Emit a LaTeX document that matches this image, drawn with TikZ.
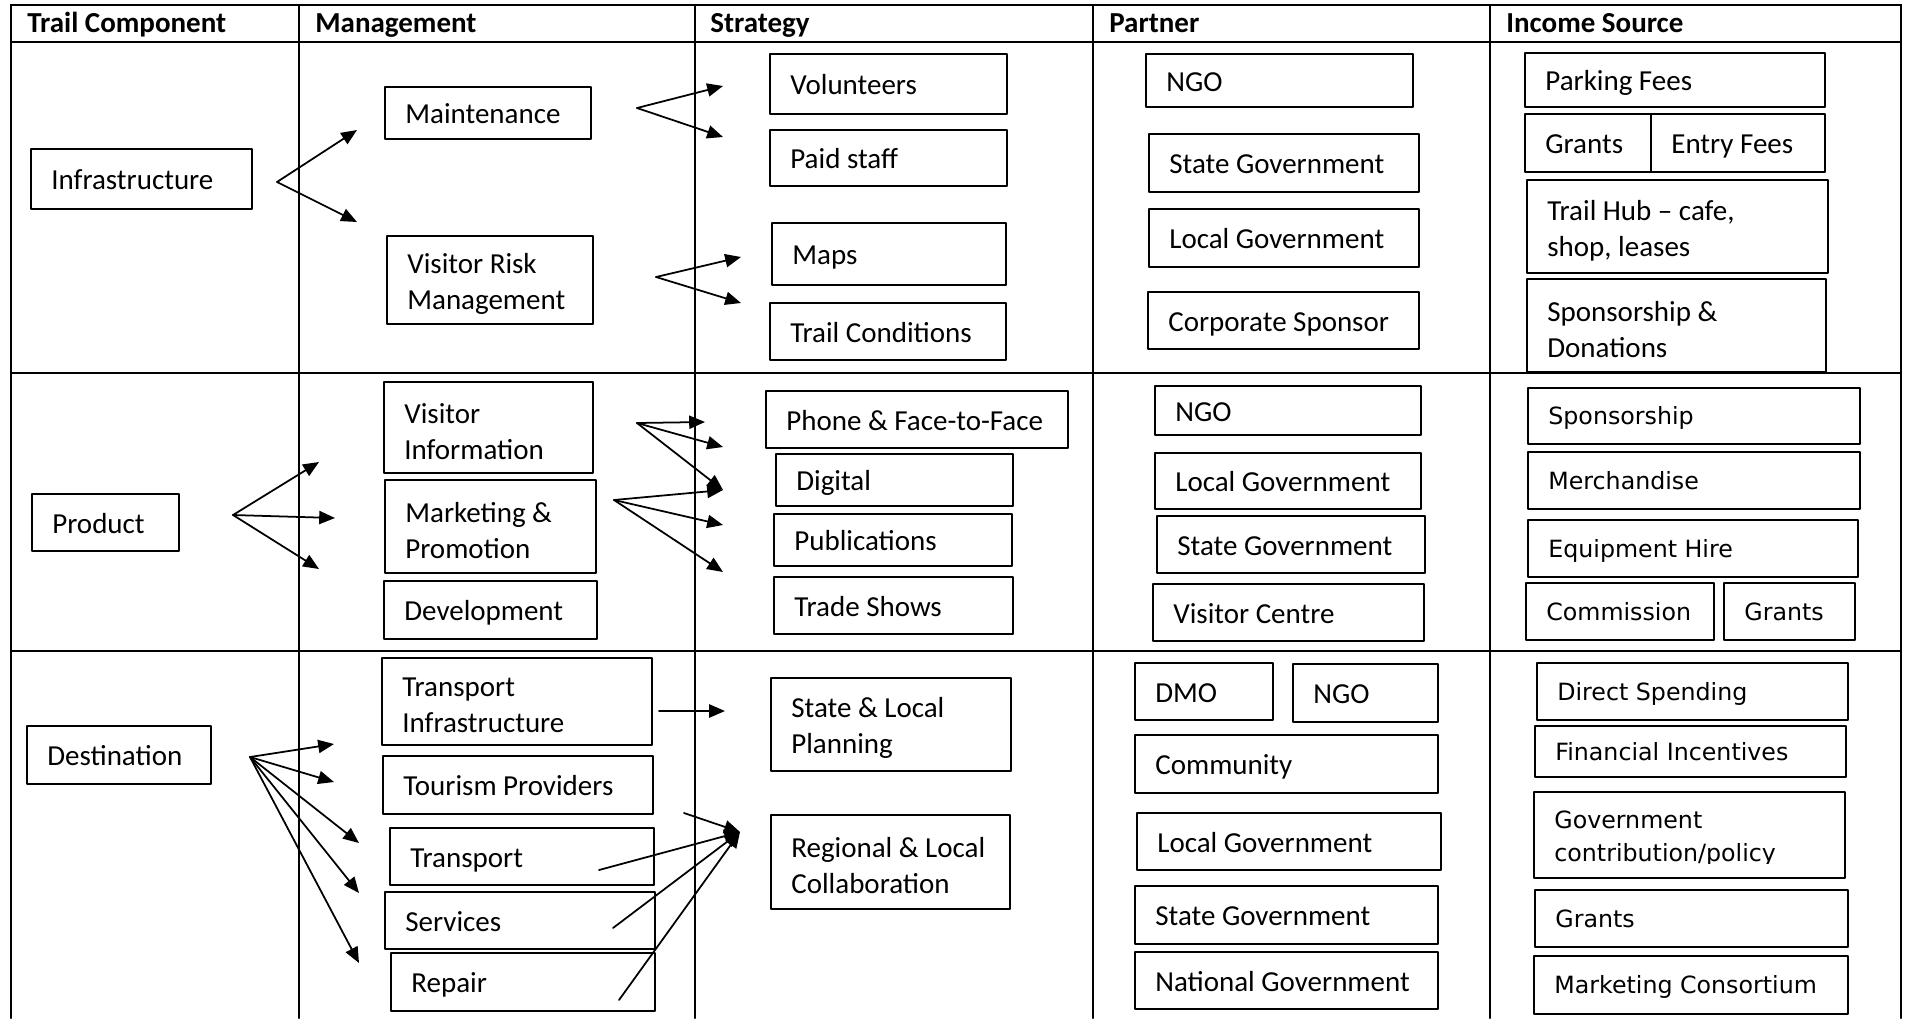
\documentclass[tikz,border=0pt]{standalone}
\usepackage{fontspec}
\setmainfont{Carlito}
\newfontfamily\verdfont{DejaVu Sans}
\usetikzlibrary{arrows.meta}

\newcommand{\boxfont}{\fontsize{16.5pt}{20.5pt}\selectfont}
\newcommand{\incfont}{\verdfont\fontsize{13.5pt}{18.8pt}\selectfont}
\newcommand{\headfont}{\bfseries\fontsize{16.5pt}{20.5pt}\selectfont}

\tikzset{
  box/.style 2 args={draw, line width=0.9pt, anchor=north west, inner sep=0pt,
    minimum width=#1*0.02cm, minimum height=#2*0.02cm},
  txt/.style={anchor=west, xshift=0.42cm, inner sep=0pt, align=left,
    text height=12.5pt, text depth=0pt, font=\boxfont},
  vtxt/.style={txt, text height=10pt, font=\incfont},
  mtxt/.style={anchor=west, xshift=0.42cm, yshift=-0.08cm, inner sep=0pt,
    align=left, font=\boxfont},
  vmtxt/.style={mtxt, font=\incfont},
  lbl/.style={label={[txt]west:#1}},
  vlbl/.style={label={[vtxt]west:#1}},
  mlbl/.style={label={[mtxt]west:#1}},
  head/.style={anchor=base west, inner sep=0pt, font=\headfont},
  grid/.style={line width=1.2pt},
  arr/.style={->, line width=1pt},
}

\begin{document}
\begin{tikzpicture}[line cap=round,line join=round,>={Triangle[length=9pt,width=7.5pt]},x=0.02cm,y=-0.02cm]
\useasboundingbox (0,0) rectangle (1905,1018);

% table
\draw[grid] (11,5) -- (1901,5);
\draw[grid] (11,42) -- (1901,42);
\draw[grid] (11,373) -- (1901,373);
\draw[grid] (11,651) -- (1901,651);
\foreach \x in {11,299,695,1093,1490,1901}
  \draw[grid] (\x,5) -- (\x,1018);

\node[head] (hcomp) at (27,32) {Trail Component};
\node[head] (hmgmt) at (315,32) {Management};
\node[head] (hstrat) at (710,32) {Strategy};
\node[head] (hpart) at (1109,32) {Partner};
\node[head] (hinc) at (1506,32) {Income Source};

% Infrastructure
\node[box={221}{60}, lbl=Infrastructure] (infra) at (30,148) {};
\node[box={206}{52}, lbl=Maintenance] (maint) at (384,86) {};
\node[box={206}{88}, mlbl={Visitor Risk\\Management}] (vrm) at (386,235) {};
\node[box={237}{60}, lbl=Volunteers] (vol) at (769,53) {};
\node[box={237}{56}, lbl=Paid staff] (paid) at (769,129) {};
\node[box={234}{62}, lbl=Maps] (maps) at (771,222) {};
\node[box={236}{57}, lbl=Trail Conditions] (trailc) at (769,302) {};
\node[box={267}{53}, lbl=NGO] (ngoA) at (1145,53) {};
\node[box={270}{58}, lbl=State Government] (stateA) at (1148,133) {};
\node[box={270}{58}, lbl=Local Government] (localA) at (1148,208) {};
\node[box={271}{57}, lbl=Corporate Sponsor] (corp) at (1147,291) {};
\node[box={300}{54}, lbl=Parking Fees] (parking) at (1524,52) {};
\node[box={126}{58}, lbl=Grants] (grantsA) at (1524,113) {};
\node[box={174}{58}, lbl=Entry Fees] (entry) at (1650,113) {};
\node[box={301}{93}, mlbl={Trail Hub – cafe,\\shop, leases}] (hub) at (1526,179) {};
\node[box={299}{93}, mlbl={Sponsorship \&\\Donations}] (sponsA) at (1526,278) {};

\coordinate (i0) at (277,182);
\coordinate (i1) at (357,130);
\coordinate (i2) at (357,222);
\coordinate (m0) at (637,108);
\coordinate (m1) at (723,86);
\coordinate (m2) at (723,137);
\coordinate (r0) at (656,277);
\coordinate (r1) at (741,257);
\coordinate (r2) at (741,303);

\draw[arr] (i0) -- (i1);
\draw[arr] (i0) -- (i2);
\draw[arr] (m0) -- (m1);
\draw[arr] (m0) -- (m2);
\draw[arr] (r0) -- (r1);
\draw[arr] (r0) -- (r2);

% Product
\node[box={147}{57}, lbl=Product] (product) at (31,493) {};
\node[box={209}{91}, mlbl={Visitor\\Information}] (visinfo) at (383,381) {};
\node[box={211}{93}, mlbl={Marketing \&\\Promotion}] (mkt) at (384,479) {};
\node[box={213}{58}, lbl=Development] (dev) at (383,580) {};
\node[box={302}{57}, lbl={Phone \& Face-to-Face}] (phone) at (765,390) {};
\node[box={237}{52}, lbl=Digital] (digital) at (775,453) {};
\node[box={238}{52}, lbl=Publications] (pubs) at (773,513) {};
\node[box={239}{57}, lbl=Trade Shows] (trade) at (773,576) {};
\node[box={266}{49}, lbl=NGO] (ngoB) at (1154,385) {};
\node[box={266}{56}, lbl=Local Government] (localB) at (1154,452) {};
\node[box={268}{57}, lbl=State Government] (stateB) at (1156,515) {};
\node[box={271}{57}, lbl=Visitor Centre] (vcentre) at (1152,583) {};
\node[box={332}{56}, vlbl=Sponsorship] (sponsB) at (1527,387) {};
\node[box={332}{57}, vlbl=Merchandise] (merch) at (1527,451) {};
\node[box={330}{57}, vlbl=Equipment Hire] (equip) at (1527,519) {};
\node[box={188}{57}, vlbl=Commission] (comm) at (1525,582) {};
\node[box={131}{57}, vlbl=Grants] (grantsB) at (1723,582) {};

\coordinate (p0) at (233,515);
\coordinate (p1) at (319,462);
\coordinate (p2) at (335,518);
\coordinate (p3) at (319,569);
\coordinate (v0) at (637,423);
\coordinate (v1) at (705,422);
\coordinate (v2) at (723,447);
\coordinate (v3) at (723,490);
\coordinate (k0) at (614,500);
\coordinate (k2) at (723,525);
\coordinate (k3) at (723,572);

\draw[arr] (p0) -- (p1);
\draw[arr] (p0) -- (p2);
\draw[arr] (p0) -- (p3);
\draw[arr] (v0) -- (v1);
\draw[arr] (v0) -- (v2);
\draw[arr] (v0) -- (v3);
\draw[arr] (k0) -- (v3);
\draw[arr] (k0) -- (k2);
\draw[arr] (k0) -- (k3);

% Destination
\node[box={184}{58}, lbl=Destination] (dest) at (26,725) {};
\node[box={270}{87}, mlbl={Transport\\Infrastructure}] (transinf) at (381,657) {};
\node[box={270}{58}, lbl=Tourism Providers] (tourism) at (382,755) {};
\node[box={264}{57}, lbl=Transport] (transport) at (389,827) {};
\node[box={270}{57}, lbl=Services] (services) at (384,891) {};
\node[box={264}{58}, lbl=Repair] (repair) at (390,952) {};
\node[box={240}{93}, mlbl={State \& Local\\Planning}] (planning) at (770,677) {};
\node[box={239}{94}, mlbl={Regional \& Local\\Collaboration}] (collab) at (770,814) {};
\node[box={138}{57}, lbl=DMO] (dmo) at (1134,662) {};
\node[box={145}{58}, lbl=NGO] (ngoC) at (1292,663) {};
\node[box={303}{58}, lbl=Community] (community) at (1134,734) {};
\node[box={304}{57}, lbl=Local Government] (localC) at (1136,812) {};
\node[box={303}{58}, lbl=State Government] (stateC) at (1134,885) {};
\node[box={303}{57}, lbl=National Government] (national) at (1134,951) {};
\node[box={311}{57}, vlbl=Direct Spending] (direct) at (1536,662) {};
\node[box={311}{51}, vlbl=Financial Incentives] (financial) at (1534,725) {};
\node[box={311}{86}] (govt) at (1533,791) {};
\begin{scope}
\clip (1533,791) rectangle (1844,863);
\node[vmtxt] (govtxt) at (govt.west) {Government\\contribution/policy};
\end{scope}
\node[box={313}{57}, vlbl=Grants] (grantsC) at (1534,889) {};
\node[box={314}{58}, vlbl=Marketing Consortium] (consort) at (1533,955) {};

\coordinate (d0) at (250,757);
\coordinate (d1) at (334,744);
\coordinate (d2) at (334,782);
\coordinate (d3) at (359,843);
\coordinate (d4) at (359,893);
\coordinate (d5) at (359,963);
\coordinate (t0) at (659,711);
\coordinate (t1) at (725,711);
\coordinate (c0) at (740,832);
\coordinate (c1) at (684,813);
\coordinate (c2) at (599,870);
\coordinate (c3) at (613,928);
\coordinate (c4) at (619,1000);

\foreach \e in {d1,d2,d3,d4,d5}
  \draw[arr] (d0) -- (\e);
\draw[arr] (t0) -- (t1);
\foreach \s in {c1,c2,c3,c4}
  \draw[arr] (\s) -- (c0);

\end{tikzpicture}
\end{document}
